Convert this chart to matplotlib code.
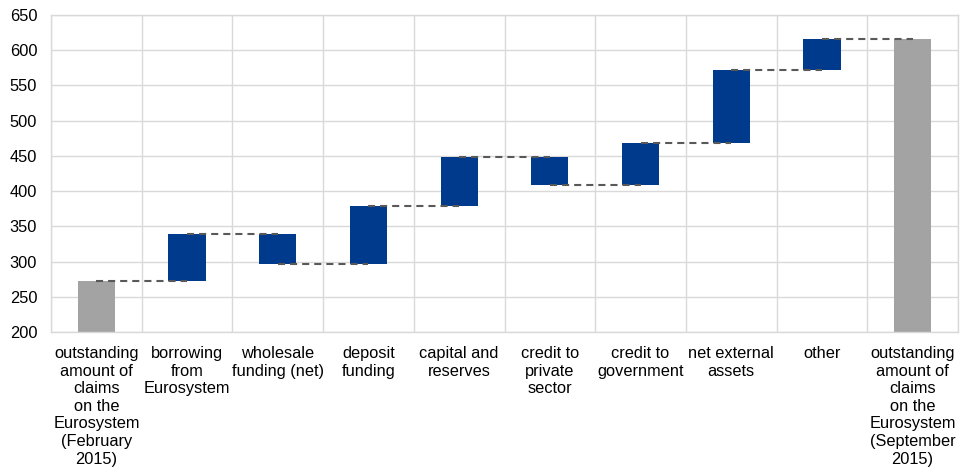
import numpy as np
import matplotlib
matplotlib.use("Agg")
import matplotlib.pyplot as plt

plt.rcParams['font.family'] = ['Liberation Sans', 'DejaVu Sans']

# 항목 이름 (줄바꿈 그대로)
labels = ["outstanding\namount of\nclaims\non the\nEurosystem\n(February\n2015)",
          "borrowing\nfrom\nEurosystem",
          "wholesale\nfunding (net)",
          "deposit\nfunding",
          "capital and\nreserves",
          "credit to\nprivate\nsector",
          "credit to\ngovernment",
          "net external\nassets",
          "other",
          "outstanding\namount of\nclaims\non the\nEurosystem\n(September\n2015)"]

# 각 단계 끝난 뒤의 누적 수준
levels = [272, 339, 297, 379, 448, 408, 468, 572, 616, 616]
is_total = [True, False, False, False, False, False, False, False, False, True]

gray = "#a3a3a3"
blue = "#003a8c"
grid_c = "#d9d9d9"

fig = plt.figure(figsize=(9.65, 4.73), dpi=100)
ax = fig.add_axes([0.0529, 0.2981, 0.9398, 0.6702])

x = np.arange(len(levels))
w = 0.41
for i in x:
    if is_total[i]:
        ax.bar(i, levels[i], width=w, color=gray, zorder=2)
    else:
        lo = min(levels[i - 1], levels[i])
        hi = max(levels[i - 1], levels[i])
        ax.bar(i, hi - lo, bottom=lo, width=w, color=blue, zorder=2)

# 점선 연결
for i in range(len(levels) - 1):
    ax.plot([i, i + 1], [levels[i], levels[i]], color="#595959", lw=1.5,
            dashes=(3.4, 2.4), zorder=3)

ax.set_xlim(-0.5, len(levels) - 0.5)
ax.set_ylim(200, 650)
ax.set_yticks(np.arange(200, 651, 50))
ax.set_xticks(x)
ax.set_xticklabels(labels, fontsize=11.8, linespacing=1.22, va="top")
ax.set_xticks(np.arange(-0.5, len(levels), 1.0), minor=True)

ax.tick_params(axis="y", labelsize=11.8, length=0, pad=10)
ax.tick_params(axis="x", which="both", length=0, pad=10)
ax.grid(axis="y", color=grid_c, lw=1, zorder=0)
ax.grid(axis="x", which="minor", color=grid_c, lw=1, zorder=0)
ax.grid(axis="x", which="major", visible=False)
for s in ax.spines.values():
    s.set_color(grid_c)
    s.set_linewidth(1)
    s.set_zorder(4)

fig.savefig("out.png", dpi=100)
